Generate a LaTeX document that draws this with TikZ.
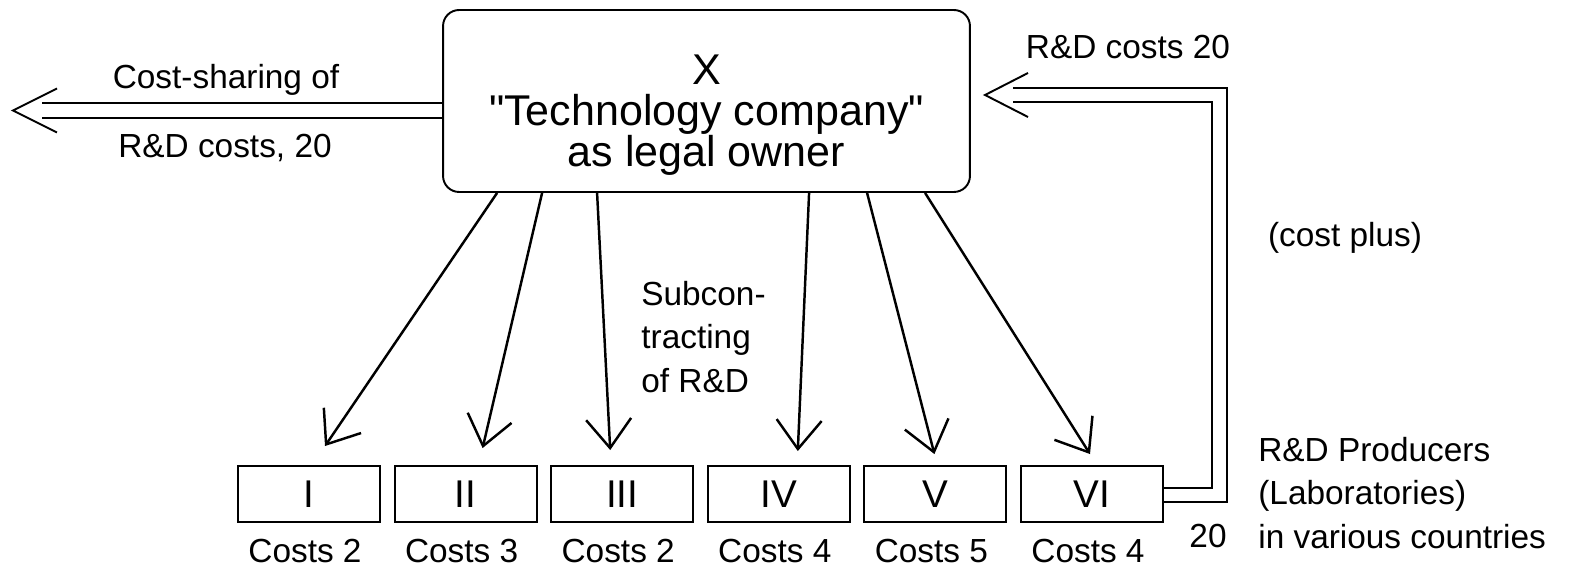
\documentclass[tikz,border=0pt]{standalone}
\usepackage{fontspec}
\setmainfont{Liberation Sans}
\usetikzlibrary{calc,arrows.meta}

\begin{document}
\begin{tikzpicture}[x=0.02cm,y=-0.02cm,
    mainbox/.style={draw,line width=1.1pt,rounded corners=0.32cm,minimum width=10.54cm,minimum height=3.64cm},
    labbox/.style={draw,line width=1.1pt,minimum width=2.84cm,minimum height=1.12cm,font=\fontsize{22}{24}\selectfont},
    txt/.style={inner sep=0pt,font=\fontsize{19}{24.7}\selectfont},
    sub/.style={line width=1.4pt,-{Straight Barb[length=0.58cm,width=0.9cm,line width=1.4pt]}},
    dbl/.style={line width=1.1pt,line join=miter}]
  \useasboundingbox (0,0) rectangle (1572,577);
  % owner company
  \node[mainbox] (X) at (706.5,101) {};
  \node[inner sep=0pt,align=center,font=\fontsize{24.5}{23.3}\selectfont] (Xtxt) at (706.5,115)
    {X\\\textquotedbl Technology company\textquotedbl\\as legal owner};
  % the six laboratories
  \foreach \r/\c [count=\i] in {I/2,II/3,III/2,IV/4,V/5,VI/4} {
    \node[labbox] (l\i) at (309+156.6*\i-156.6,494) {\r};
    \node[txt] (c\i) at ($(l\i.south)+(-4,28)$) {Costs \c};
  }
  % subcontracting arrows
  \draw[sub] ($(X.south west)+(55,0)$)  -- ($(l1.north)+(16,-19)$);
  \draw[sub] ($(X.south west)+(100,0)$) -- ($(l2.north)+(17,-17)$);
  \draw[sub] ($(X.south west)+(155,0)$) -- ($(l3.north)+(-12,-15)$);
  \draw[sub] ($(X.south west)+(367,0)$) -- ($(l4.north)+(19,-14)$);
  \draw[sub] ($(X.south west)+(425,0)$) -- ($(l5.north)+(-1,-11)$);
  \draw[sub] ($(X.south west)+(483,0)$) -- ($(l6.north)+(-2,-11)$);
  % cost-sharing, double arrow to the left
  \coordinate (cstip) at (13,110.5);
  \draw[dbl] ($(X.west)+(0,2)$)  -- ($(cstip)+(29,-7.5)$);
  \draw[dbl] ($(X.west)+(0,17)$) -- ($(cstip)+(29,7.5)$);
  \draw[dbl] ($(cstip)+(44,-22)$) -- (cstip) -- ($(cstip)+(44,22)$);
  % cost plus, double line back from VI
  \coordinate (rdtip) at (985,95);
  \draw[dbl] ($(l6.east)+(0,-6)$) -| (1212,102) -- ($(rdtip)+(28,7)$);
  \draw[dbl] ($(l6.east)+(0,8)$)  -| (1227,88)  -- ($(rdtip)+(28,-7)$);
  \draw[dbl] ($(rdtip)+(43,-22)$) -- (rdtip) -- ($(rdtip)+(43,22)$);
  % labels
  \node[txt] (share1) at (226,80) {Cost-sharing of};
  \node[txt] (share2) at (225,148) {R\&D costs, 20};
  \node[txt] (rdcost) at (1128,47) {R\&D costs 20};
  \node[txt] (plus) at (1345,238) {(cost plus)};
  \node[txt] (twenty) at (1208,536) {20};
  \node[txt,align=left,anchor=north west] (subc) at (641,281) {Subcon-\\tracting\\of R\&D};
  \node[txt,align=left,anchor=north west] (prod) at (1258,437)
    {R\&D Producers\\(Laboratories)\\in various countries};
\end{tikzpicture}
\end{document}
